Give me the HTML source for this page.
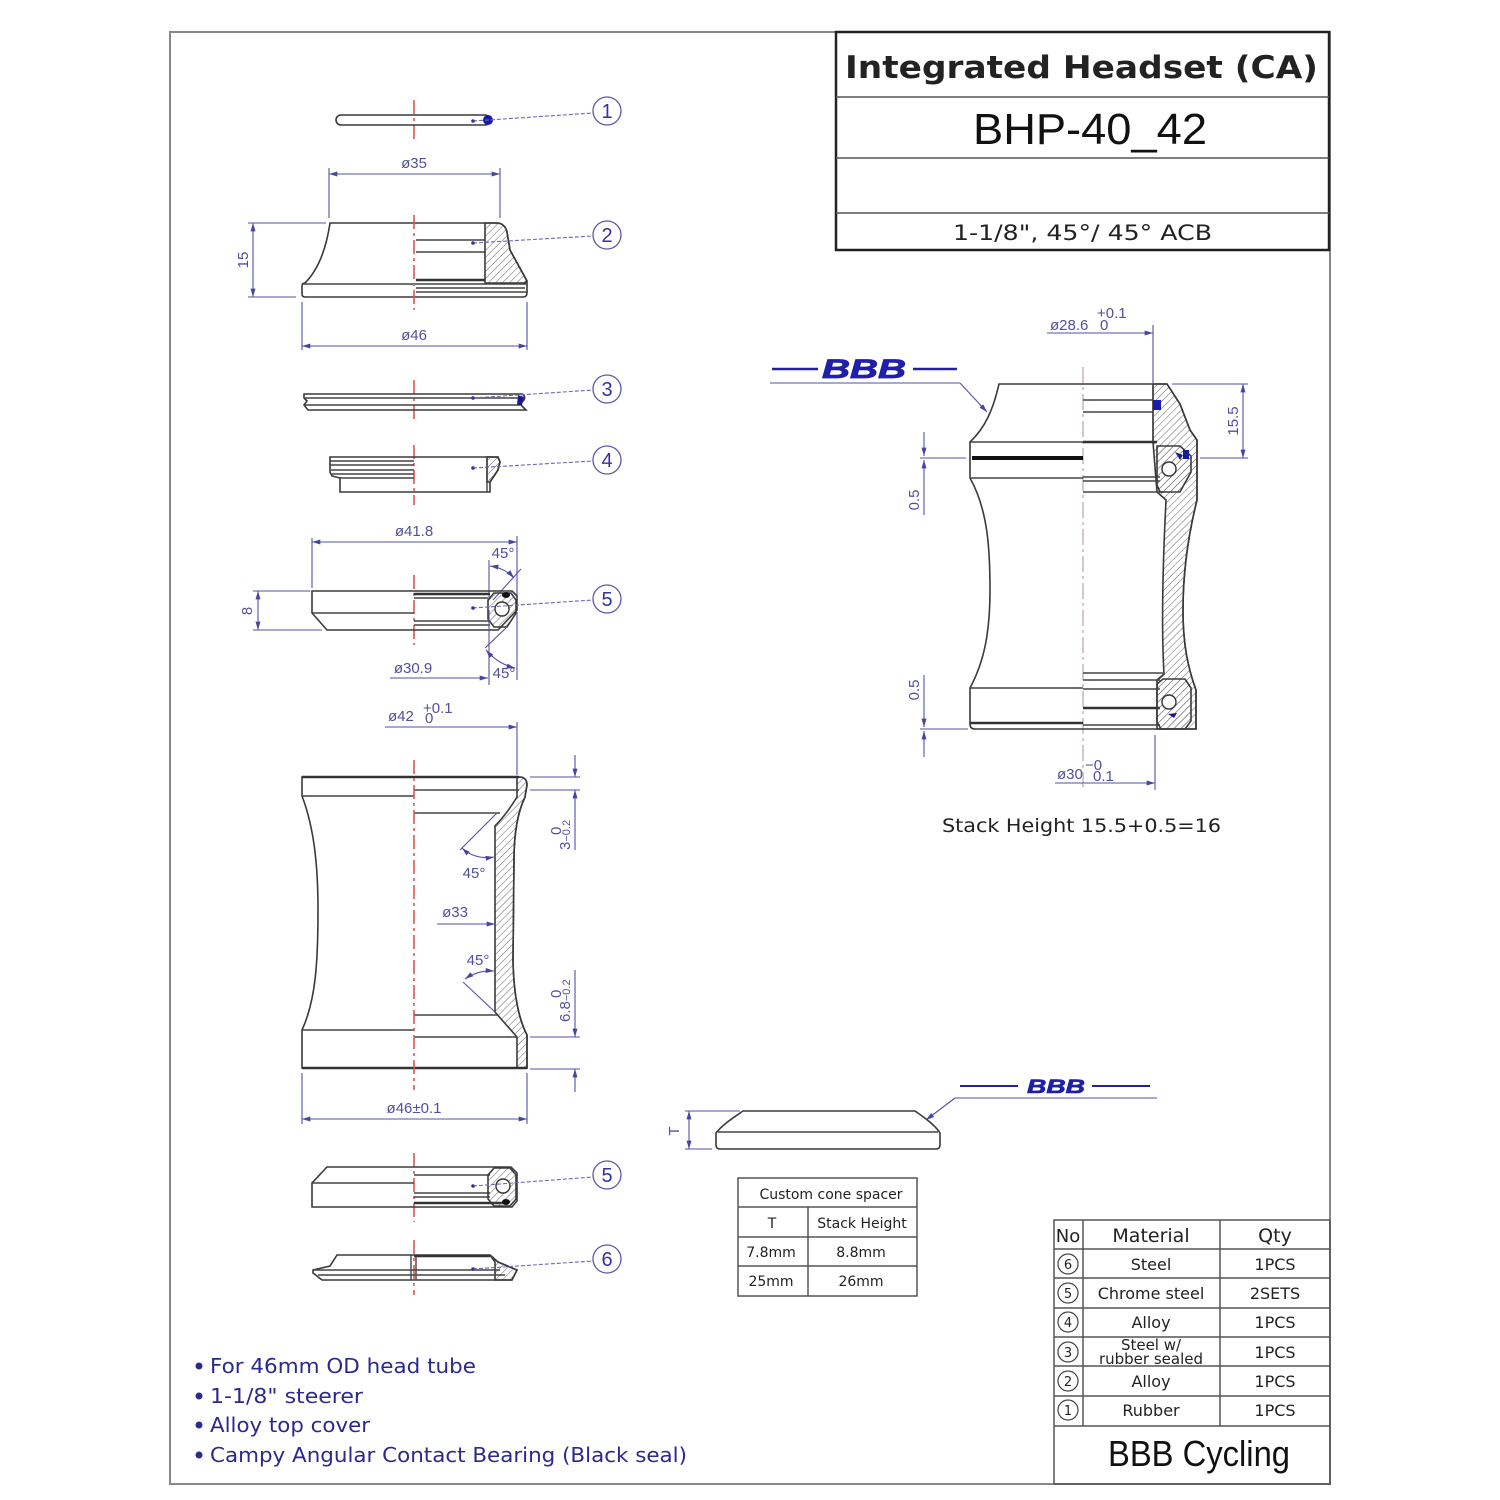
<!DOCTYPE html>
<html><head><meta charset="utf-8">
<style>html,body{margin:0;padding:0;background:#fff}svg{display:block}</style></head>
<body>
<svg width="1500" height="1500" viewBox="0 0 1500 1500" xmlns="http://www.w3.org/2000/svg">
<defs>
<pattern id="h" width="5" height="5" patternUnits="userSpaceOnUse" patternTransform="rotate(45)"><line x1="0" y1="0" x2="0" y2="5" stroke="#666" stroke-width="1"/></pattern>
<marker id="ar" viewBox="0 0 10 6" refX="10" refY="3" markerWidth="10" markerHeight="5" markerUnits="userSpaceOnUse" orient="auto-start-reverse"><path d="M0,0 L10,3 L0,6 z" fill="#4646a0"/></marker>
<style>
.o{fill:none;stroke:#3a3a3a;stroke-width:1.6}
.l{stroke:#444;stroke-width:1.4}
.tk{stroke:#333;stroke-width:2.6}
.d{stroke:#5252a8;stroke-width:1.1;fill:none}
.c{stroke:#e05555;stroke-width:1.6;stroke-dasharray:14 4 3 4}
.ld{stroke:#6a6ab8;stroke-width:1.1;stroke-dasharray:4 2;fill:none}
.t{fill:#5050a0;font-family:"Liberation Sans",sans-serif;font-size:15px}
.cn{fill:#fff;stroke:#5a5aa8;stroke-width:1.3}
.cnt{fill:#3333a0;font-family:"Liberation Sans",sans-serif;font-size:20px;text-anchor:middle}
.k{font-family:"DejaVu Sans","Liberation Sans",sans-serif;fill:#222}
.b{font-family:"DejaVu Sans","Liberation Sans",sans-serif;fill:#2a2a8c;font-size:20px}
</style>
</defs>

<!-- frame -->
<rect x="170" y="32" width="1160" height="1452" fill="none" stroke="#888" stroke-width="2"/>

<!-- title block -->
<rect x="836" y="32" width="493" height="218" fill="#fff" stroke="#222" stroke-width="2.5"/>
<line x1="836" y1="97" x2="1329" y2="97" stroke="#555" stroke-width="1.5"/>
<line x1="836" y1="158" x2="1329" y2="158" stroke="#555" stroke-width="1.5"/>
<line x1="836" y1="213" x2="1329" y2="213" stroke="#555" stroke-width="1.5"/>
<text x="845" y="78" class="k" font-weight="bold" font-size="31" textLength="473" lengthAdjust="spacingAndGlyphs" fill="#111">Integrated Headset (CA)</text>
<text x="973" y="144" font-family="Liberation Sans, sans-serif" font-size="44" textLength="234" lengthAdjust="spacingAndGlyphs" fill="#111">BHP-40_42</text>
<text x="953" y="240" class="k" font-size="21" textLength="259" lengthAdjust="spacingAndGlyphs">1-1/8", 45°/ 45° ACB</text>

<!-- ===== Part 1 ===== -->
<line class="c" x1="414" y1="100" x2="414" y2="142"/>
<rect x="336" y="115" width="154" height="10" rx="5" class="o"/>
<circle cx="488" cy="120" r="5" fill="#1a1aa8"/>

<!-- ===== Part 2 ===== -->
<line class="d" x1="329" y1="168" x2="329" y2="218"/>
<line class="d" x1="500" y1="168" x2="500" y2="218"/>
<line class="d" x1="329" y1="174" x2="500" y2="174" marker-start="url(#ar)" marker-end="url(#ar)"/>
<text class="t" x="414" y="168" text-anchor="middle">ø35</text>
<path class="o" d="M485,223 L498,223 Q505,224 507,232 L510,250 L527,281 L525,283 L485,283 Z" style="fill:url(#h)"/>
<path class="o" d="M330,223 L498,223 Q505,224 507,232 L510,250 L527,281 L527,293 Q527,297 523,297 L305,297 Q302,297 302,294 L302,286 Q302,283 305,283 C318,270 326,250 330,223 Z"/>
<line class="l" x1="416" y1="240" x2="485" y2="240"/>
<line class="l" x1="416" y1="252" x2="485" y2="252"/>
<line class="tk" x1="416" y1="280" x2="485" y2="280"/>
<line class="l" x1="303" y1="284" x2="527" y2="284"/>
<line class="l" x1="416" y1="288" x2="525" y2="288"/>
<line class="l" x1="416" y1="292" x2="527" y2="292"/>
<line class="c" x1="414" y1="215" x2="414" y2="310"/>
<line class="d" x1="248" y1="223" x2="326" y2="223"/>
<line class="d" x1="248" y1="297" x2="296" y2="297"/>
<line class="d" x1="253" y1="223" x2="253" y2="297" marker-start="url(#ar)" marker-end="url(#ar)"/>
<text class="t" transform="translate(248,260) rotate(-90)" text-anchor="middle">15</text>
<line class="d" x1="302" y1="302" x2="302" y2="350"/>
<line class="d" x1="527" y1="302" x2="527" y2="350"/>
<line class="d" x1="302" y1="346" x2="527" y2="346" marker-start="url(#ar)" marker-end="url(#ar)"/>
<text class="t" x="414" y="340" text-anchor="middle">ø46</text>

<!-- ===== Part 3 ===== -->
<line class="c" x1="414" y1="380" x2="414" y2="422"/>
<path class="o" d="M304,394 L522,394 Q526,396 524,400 L520,404 L526,410 L308,410 L304,405 L307,401 L304,398 Z"/>
<line class="l" x1="305" y1="398" x2="521" y2="398"/>
<line class="l" x1="305" y1="405" x2="520" y2="405"/>
<path d="M518,395 L524,397 L522,405 L517,405 Z" fill="#1a1a90"/>

<!-- ===== Part 4 ===== -->
<line class="c" x1="414" y1="445" x2="414" y2="505"/>
<path class="o" d="M487,457 L498,457 L500,462 L498,470 L490,482 L487,482 Z" style="fill:url(#h)"/>
<path class="o" d="M330,457 L498,457 L500,462 L498,470 L490,482 L490,492 L340,492 L340,478 L332,476 L330,472 Z"/>
<line class="l" x1="330" y1="461" x2="414" y2="461"/>
<line class="l" x1="330" y1="465" x2="414" y2="465"/>
<line class="l" x1="331" y1="470" x2="414" y2="470"/>
<line class="l" x1="332" y1="474" x2="414" y2="474"/>
<line class="l" x1="340" y1="478" x2="414" y2="478"/>
<line class="l" x1="487" y1="457" x2="487" y2="492"/>

<!-- ===== Part 5 upper ===== -->
<line class="d" x1="312" y1="538" x2="312" y2="588"/>
<line class="d" x1="517" y1="536" x2="517" y2="596"/>
<line class="d" x1="312" y1="542" x2="517" y2="542" marker-start="url(#ar)" marker-end="url(#ar)"/>
<text class="t" x="414" y="536" text-anchor="middle">ø41.8</text>
<text class="t" x="503" y="558" text-anchor="middle">45°</text>
<line class="d" x1="489" y1="560" x2="489" y2="600"/>
<line class="d" x1="521" y1="569" x2="493" y2="600"/>
<path class="d" d="M490,566 Q505,568 514,578" marker-start="url(#ar)" marker-end="url(#ar)"/>
<line class="c" x1="414" y1="575" x2="414" y2="645"/>
<path class="o" d="M312,591 L512,591 L517,596 L517,610 L498,630 L327,630 L312,613 Z"/>
<line class="tk" x1="414" y1="594" x2="490" y2="594"/>
<line class="l" x1="312" y1="613" x2="414" y2="613"/>
<line class="l" x1="414" y1="598" x2="488" y2="598"/>
<line class="l" x1="414" y1="621" x2="490" y2="621"/>
<line class="l" x1="414" y1="625" x2="490" y2="625"/>
<path class="o" d="M488,600 L494,593 L511,593 L516,600 L516,613 L507,627 L494,627 L488,619 Z" style="fill:url(#h)"/>
<circle cx="502" cy="609" r="7" fill="#fff" stroke="#333" stroke-width="1.4"/>
<ellipse cx="506" cy="595" rx="4" ry="3" fill="#111"/>
<line class="d" x1="253" y1="591" x2="310" y2="591"/>
<line class="d" x1="253" y1="630" x2="322" y2="630"/>
<line class="d" x1="258" y1="591" x2="258" y2="630" marker-start="url(#ar)" marker-end="url(#ar)"/>
<text class="t" transform="translate(252,611) rotate(-90)" text-anchor="middle">8</text>
<line class="d" x1="489" y1="610" x2="489" y2="685"/>
<line class="d" x1="517" y1="612" x2="517" y2="680"/>
<line class="d" x1="507" y1="627" x2="485" y2="648"/>
<path class="d" d="M486,650 Q498,664 515,668" marker-start="url(#ar)" marker-end="url(#ar)"/>
<text class="t" x="504" y="678" text-anchor="middle">45°</text>
<line class="d" x1="390" y1="678" x2="488" y2="678" marker-end="url(#ar)"/>
<text class="t" x="413" y="673" text-anchor="middle">ø30.9</text>

<!-- ===== Big cup ===== -->
<text class="t" x="388" y="721">ø42</text>
<text class="t" x="423" y="713" font-size="11">+0.1</text>
<text class="t" x="425" y="723" font-size="11">0</text>
<line class="d" x1="385" y1="727" x2="517" y2="727" marker-end="url(#ar)"/>
<line class="d" x1="517" y1="722" x2="517" y2="775"/>
<path class="o" d="M519,777 Q527,777 527,785 L525,797 Q514,820 514,860 L513,960 Q514,1010 527,1035 L527,1068 L517,1068 L517,1037 L495,1012 L495,826 Q506,815 517,797 L517,777 Z" style="fill:url(#h)"/>
<path class="o" d="M302,777 L519,777 Q527,777 527,785 L525,797 Q514,820 514,860 L513,960 Q514,1010 527,1035 L527,1068 L302,1068 L302,1030 C316,1000 318,960 318,910 C318,870 315,830 302,796 Z"/>
<line class="tk" x1="302" y1="777" x2="519" y2="777"/>
<line class="l" x1="302" y1="796" x2="414" y2="796"/>
<line class="l" x1="414" y1="790" x2="519" y2="790"/>
<line class="l" x1="414" y1="813" x2="500" y2="813"/>
<line class="l" x1="414" y1="1015" x2="497" y2="1015"/>
<line class="l" x1="302" y1="1030" x2="414" y2="1030"/>
<line class="l" x1="414" y1="1037" x2="517" y2="1037"/>
<line class="tk" x1="302" y1="1068" x2="527" y2="1068"/>
<line class="c" x1="414" y1="760" x2="414" y2="1090"/>
<line class="d" x1="530" y1="777" x2="580" y2="777"/>
<line class="d" x1="530" y1="790" x2="580" y2="790"/>
<line class="d" x1="575" y1="755" x2="575" y2="777" marker-end="url(#ar)"/>
<line class="d" x1="575" y1="850" x2="575" y2="790" marker-end="url(#ar)"/>
<text class="t" transform="translate(570,850) rotate(-90)">3<tspan font-size="11">−0.2</tspan></text>
<text class="t" transform="translate(561,835) rotate(-90)" font-size="11">0</text>
<line class="d" x1="497" y1="813" x2="460" y2="850"/>
<path class="d" d="M462,848 Q475,860 494,857" marker-start="url(#ar)" marker-end="url(#ar)"/>
<text class="t" x="474" y="878" text-anchor="middle">45°</text>
<text class="t" x="455" y="917" text-anchor="middle">ø33</text>
<line class="d" x1="437" y1="924" x2="495" y2="924" marker-end="url(#ar)"/>
<text class="t" x="478" y="965" text-anchor="middle">45°</text>
<line class="d" x1="463" y1="982" x2="495" y2="1012"/>
<path class="d" d="M465,979 Q478,970 494,971" marker-start="url(#ar)" marker-end="url(#ar)"/>
<line class="d" x1="530" y1="1037" x2="580" y2="1037"/>
<line class="d" x1="530" y1="1069" x2="580" y2="1069"/>
<line class="d" x1="575" y1="970" x2="575" y2="1037" marker-end="url(#ar)"/>
<line class="d" x1="575" y1="1092" x2="575" y2="1069" marker-end="url(#ar)"/>
<text class="t" transform="translate(570,1022) rotate(-90)">6.8<tspan font-size="11">−0.2</tspan></text>
<text class="t" transform="translate(561,998) rotate(-90)" font-size="11">0</text>
<line class="d" x1="302" y1="1073" x2="302" y2="1124"/>
<line class="d" x1="527" y1="1073" x2="527" y2="1124"/>
<line class="d" x1="302" y1="1119" x2="527" y2="1119" marker-start="url(#ar)" marker-end="url(#ar)"/>
<text class="t" x="414" y="1113" text-anchor="middle">ø46±0.1</text>

<!-- ===== Part 5 lower ===== -->
<line class="c" x1="414" y1="1153" x2="414" y2="1222"/>
<path class="o" d="M327,1167 L511,1167 L517,1173 L517,1201 L512,1207 L312,1207 L312,1183 Z"/>
<line class="l" x1="312" y1="1183" x2="414" y2="1183"/>
<line class="l" x1="414" y1="1175" x2="490" y2="1175"/>
<line class="l" x1="414" y1="1193" x2="490" y2="1193"/>
<line class="l" x1="414" y1="1197" x2="490" y2="1197"/>
<line class="tk" x1="414" y1="1203" x2="508" y2="1203"/>
<path class="o" d="M488,1175 L494,1168 L510,1168 L516,1175 L516,1199 L510,1206 L494,1206 L488,1199 Z" style="fill:url(#h)"/>
<circle cx="503" cy="1186" r="7" fill="#fff" stroke="#333" stroke-width="1.4"/>
<ellipse cx="506" cy="1202" rx="4" ry="3" fill="#111"/>

<!-- ===== Part 6 ===== -->
<line class="c" x1="414" y1="1240" x2="414" y2="1295"/>
<path class="o" d="M490,1255 L498,1262 L517,1270 L512,1280 L495,1280 L495,1262 Z" style="fill:url(#h)"/>
<path class="o" d="M337,1255 L490,1255 L498,1262 L517,1270 L512,1280 L322,1280 L313,1273 L313,1270 L330,1266 Z"/>
<line class="tk" x1="414" y1="1256" x2="490" y2="1256"/>
<line class="l" x1="313" y1="1270" x2="500" y2="1270"/>
<line class="l" x1="318" y1="1275" x2="505" y2="1275"/>
<line class="l" x1="411" y1="1255" x2="411" y2="1280"/>
<line class="l" x1="416" y1="1255" x2="416" y2="1280"/>

<!-- leaders & balloons -->
<g>
<line class="ld" x1="473" y1="121" x2="593" y2="113"/><circle cx="473" cy="121" r="1.8" fill="#3333a0"/>
<line class="ld" x1="473" y1="243" x2="593" y2="236"/><circle cx="473" cy="243" r="1.8" fill="#3333a0"/>
<line class="ld" x1="473" y1="398" x2="593" y2="390"/><circle cx="473" cy="398" r="1.8" fill="#3333a0"/>
<line class="ld" x1="473" y1="468" x2="593" y2="461"/><circle cx="473" cy="468" r="1.8" fill="#3333a0"/>
<line class="ld" x1="473" y1="608" x2="593" y2="600"/><circle cx="473" cy="608" r="1.8" fill="#3333a0"/>
<line class="ld" x1="473" y1="1186" x2="593" y2="1177"/><circle cx="473" cy="1186" r="1.8" fill="#3333a0"/>
<line class="ld" x1="473" y1="1269" x2="593" y2="1261"/><circle cx="473" cy="1269" r="1.8" fill="#3333a0"/>
<circle class="cn" cx="607" cy="111" r="14"/><text class="cnt" x="607" y="118">1</text>
<circle class="cn" cx="607" cy="235" r="14"/><text class="cnt" x="607" y="242">2</text>
<circle class="cn" cx="607" cy="389" r="14"/><text class="cnt" x="607" y="396">3</text>
<circle class="cn" cx="607" cy="460" r="14"/><text class="cnt" x="607" y="467">4</text>
<circle class="cn" cx="607" cy="599" r="14"/><text class="cnt" x="607" y="606">5</text>
<circle class="cn" cx="607" cy="1175" r="14"/><text class="cnt" x="607" y="1182">5</text>
<circle class="cn" cx="607" cy="1259" r="14"/><text class="cnt" x="607" y="1266">6</text>
</g>

<!-- ===== Right assembly ===== -->
<line x1="772" y1="369" x2="818" y2="369" stroke="#2222a0" stroke-width="2.5"/>
<line x1="913" y1="369" x2="957" y2="369" stroke="#2222a0" stroke-width="2.5"/>
<text x="822" y="378" font-family="Liberation Sans, sans-serif" font-style="italic" font-weight="bold" font-size="27" fill="#2020b0" stroke="#1a1a9a" stroke-width="0.8" textLength="84" lengthAdjust="spacingAndGlyphs">BBB</text>
<line class="d" x1="770" y1="383" x2="960" y2="383"/>
<line class="d" x1="960" y1="383" x2="987" y2="412" marker-end="url(#ar)"/>

<line x1="1083" y1="367" x2="1083" y2="787" stroke="#c0a0a0" stroke-width="1.2" stroke-dasharray="16 4 3 4"/>

<path class="o" d="M1153,384 L1167,384 L1180,404 L1190,430 L1197,440 L1197,500 C1187,540 1183,575 1183,610 C1183,645 1188,668 1196,690 L1196,729 L1157,729 L1157,680 L1164,674 C1162,640 1162,580 1166,500 L1157,492 L1153,442 Z" style="fill:url(#h)"/>
<path class="o" d="M999,384 L1167,384 L1180,404 L1190,430 L1197,440 L1197,500 C1187,540 1183,575 1183,610 C1183,645 1188,668 1196,690 L1196,729 L975,729 Q970,729 970,724 L970,688 C985,660 990,630 990,590 C990,550 988,510 970,478 L970,442 C985,428 993,410 999,384 Z"/>
<line class="l" x1="1153" y1="384" x2="1153" y2="442"/>
<line class="l" x1="970" y1="442" x2="1083" y2="442"/>
<line x1="972" y1="458" x2="1083" y2="458" stroke="#111" stroke-width="4"/>
<line class="l" x1="970" y1="478" x2="1083" y2="478"/>
<line class="l" x1="1083" y1="400" x2="1153" y2="400"/>
<line class="l" x1="1083" y1="412" x2="1153" y2="412"/>
<line class="tk" x1="1083" y1="442" x2="1157" y2="442"/>
<line class="l" x1="1083" y1="477" x2="1160" y2="477"/>
<line class="l" x1="1083" y1="481" x2="1160" y2="481"/>
<line class="l" x1="1083" y1="492" x2="1164" y2="492"/>
<line class="l" x1="970" y1="688" x2="1083" y2="688"/>
<line class="tk" x1="970" y1="723" x2="1083" y2="723"/>
<line class="l" x1="1083" y1="673" x2="1163" y2="673"/>
<line class="l" x1="1083" y1="680" x2="1160" y2="680"/>
<line class="l" x1="1083" y1="689" x2="1160" y2="689"/>
<line class="tk" x1="1083" y1="708" x2="1160" y2="708"/>
<line class="l" x1="1083" y1="725" x2="1160" y2="725"/>
<path class="o" d="M1157,446 L1180,446 L1191,456 L1191,472 L1180,492 L1160,492 L1157,485 Z" style="fill:url(#h)"/>
<circle cx="1169" cy="469" r="7" fill="#fff" stroke="#333" stroke-width="1.4"/>
<path d="M1175,452 L1183,455 L1180,460 Z" fill="#1a1a90"/>
<rect x="1183" y="450" width="6" height="9" fill="#1a1a90"/>
<path class="o" d="M1157,684 L1163,679 L1185,679 L1191,688 L1191,721 L1185,729 L1161,729 L1157,722 Z" style="fill:url(#h)"/>
<circle cx="1169" cy="702" r="7" fill="#fff" stroke="#333" stroke-width="1.4"/>
<path d="M1168,714 L1177,713 L1174,718 Z" fill="#1a1a90"/>
<rect x="1153" y="400" width="8" height="10" fill="#1a1ab0"/>

<text class="t" x="1050" y="330">ø28.6</text>
<text class="t" x="1097" y="318" font-size="11">+0.1</text>
<text class="t" x="1100" y="330" font-size="11">0</text>
<line class="d" x1="1047" y1="333" x2="1153" y2="333" marker-end="url(#ar)"/>
<line class="d" x1="1153" y1="325" x2="1153" y2="384"/>
<line class="d" x1="1172" y1="384" x2="1248" y2="384"/>
<line class="d" x1="1200" y1="458" x2="1248" y2="458"/>
<line class="d" x1="1243" y1="384" x2="1243" y2="458" marker-start="url(#ar)" marker-end="url(#ar)"/>
<text class="t" transform="translate(1238,421) rotate(-90)" text-anchor="middle">15.5</text>
<line class="d" x1="920" y1="458" x2="966" y2="458"/>
<line class="d" x1="924" y1="432" x2="924" y2="456" marker-end="url(#ar)"/>
<line class="d" x1="924" y1="515" x2="924" y2="460" marker-end="url(#ar)"/>
<text class="t" transform="translate(919,500) rotate(-90)" text-anchor="middle">0.5</text>
<line class="d" x1="920" y1="729" x2="968" y2="729"/>
<line class="d" x1="924" y1="675" x2="924" y2="727" marker-end="url(#ar)"/>
<line class="d" x1="924" y1="757" x2="924" y2="731" marker-end="url(#ar)"/>
<text class="t" transform="translate(919,690) rotate(-90)" text-anchor="middle">0.5</text>
<line class="d" x1="1155" y1="735" x2="1155" y2="790"/>
<line class="d" x1="1055" y1="783" x2="1155" y2="783" marker-end="url(#ar)"/>
<text class="t" x="1057" y="779">ø30</text>
<text class="t" x="1085" y="770" font-size="11">−0</text>
<text class="t" x="1093" y="781" font-size="11">0.1</text>

<text x="942" y="832" class="k" font-size="19" textLength="279" lengthAdjust="spacingAndGlyphs">Stack Height  15.5+0.5=16</text>

<!-- ===== cone spacer ===== -->
<line x1="960" y1="1086" x2="1018" y2="1086" stroke="#2222a0" stroke-width="2"/>
<line x1="1092" y1="1086" x2="1150" y2="1086" stroke="#2222a0" stroke-width="2"/>
<text x="1027" y="1093" font-family="Liberation Sans, sans-serif" font-style="italic" font-weight="bold" font-size="19" fill="#2020b0" stroke="#1a1a9a" stroke-width="0.6" textLength="58" lengthAdjust="spacingAndGlyphs">BBB</text>
<line class="d" x1="955" y1="1098" x2="1157" y2="1098"/>
<line class="d" x1="955" y1="1098" x2="926" y2="1120" marker-end="url(#ar)"/>
<path class="o" d="M743,1111 L915,1111 C925,1118 935,1125 940,1133 L940,1145 Q940,1149 936,1149 L720,1149 Q716,1149 716,1145 L716,1133 C722,1125 733,1118 743,1111 Z"/>
<line class="l" x1="718" y1="1132" x2="938" y2="1132"/>
<line class="d" x1="685" y1="1111" x2="740" y2="1111"/>
<line class="d" x1="685" y1="1149" x2="712" y2="1149"/>
<line class="d" x1="689" y1="1111" x2="689" y2="1149" marker-start="url(#ar)" marker-end="url(#ar)"/>
<text class="t" transform="translate(679,1131) rotate(-90)" text-anchor="middle" font-size="11">T</text>

<!-- custom cone spacer table -->
<g stroke="#555" stroke-width="1.5" fill="none">
<rect x="738" y="1178" width="179" height="118"/>
<line x1="738" y1="1207" x2="917" y2="1207"/>
<line x1="738" y1="1237" x2="917" y2="1237"/>
<line x1="738" y1="1266" x2="917" y2="1266"/>
<line x1="808" y1="1207" x2="808" y2="1296"/>
</g>
<g class="k" font-size="14" text-anchor="middle" fill="#333">
<text x="831" y="1199">Custom cone spacer</text>
<text x="772" y="1228">T</text>
<text x="862" y="1228">Stack Height</text>
<text x="771" y="1257">7.8mm</text>
<text x="861" y="1257">8.8mm</text>
<text x="771" y="1286">25mm</text>
<text x="861" y="1286">26mm</text>
</g>

<!-- parts table -->
<g stroke="#555" stroke-width="1.5" fill="none">
<rect x="1054" y="1220" width="276" height="264"/>
<line x1="1054" y1="1249" x2="1330" y2="1249"/>
<line x1="1054" y1="1278" x2="1330" y2="1278"/>
<line x1="1054" y1="1308" x2="1330" y2="1308"/>
<line x1="1054" y1="1337" x2="1330" y2="1337"/>
<line x1="1054" y1="1366" x2="1330" y2="1366"/>
<line x1="1054" y1="1396" x2="1330" y2="1396"/>
<line x1="1054" y1="1426" x2="1330" y2="1426"/>
<line x1="1083" y1="1220" x2="1083" y2="1426"/>
<line x1="1220" y1="1220" x2="1220" y2="1426"/>
</g>
<g class="k" text-anchor="middle" fill="#222">
<text x="1068" y="1242" font-size="18">No</text>
<text x="1151" y="1242" font-size="19">Material</text>
<text x="1275" y="1242" font-size="19">Qty</text>
<text x="1151" y="1270" font-size="16">Steel</text>
<text x="1151" y="1299" font-size="16">Chrome steel</text>
<text x="1151" y="1328" font-size="16">Alloy</text>
<text x="1151" y="1350" font-size="15">Steel  w/</text>
<text x="1151" y="1364" font-size="15">rubber sealed</text>
<text x="1151" y="1387" font-size="16">Alloy</text>
<text x="1151" y="1416" font-size="16">Rubber</text>
<text x="1275" y="1270" font-size="16">1PCS</text>
<text x="1275" y="1299" font-size="16">2SETS</text>
<text x="1275" y="1328" font-size="16">1PCS</text>
<text x="1275" y="1358" font-size="16">1PCS</text>
<text x="1275" y="1387" font-size="16">1PCS</text>
<text x="1275" y="1416" font-size="16">1PCS</text>
</g>
<g fill="none" stroke="#444" stroke-width="1.2">
<circle cx="1068" cy="1264" r="10"/><circle cx="1068" cy="1293" r="10"/><circle cx="1068" cy="1322" r="10"/>
<circle cx="1068" cy="1352" r="10"/><circle cx="1068" cy="1381" r="10"/><circle cx="1068" cy="1410" r="10"/>
</g>
<g class="k" font-size="13" text-anchor="middle" fill="#222">
<text x="1068" y="1269">6</text><text x="1068" y="1298">5</text><text x="1068" y="1327">4</text>
<text x="1068" y="1357">3</text><text x="1068" y="1386">2</text><text x="1068" y="1415">1</text>
</g>
<text x="1108" y="1466" font-family="Liberation Sans, sans-serif" font-size="36" fill="#111" textLength="182" lengthAdjust="spacingAndGlyphs">BBB Cycling</text>

<!-- bullets -->
<g fill="#2a2a8c">
<circle cx="199" cy="1366" r="3.5"/><circle cx="199" cy="1396" r="3.5"/>
<circle cx="199" cy="1425" r="3.5"/><circle cx="199" cy="1455" r="3.5"/>
</g>
<text class="b" x="210" y="1373" textLength="266" lengthAdjust="spacingAndGlyphs">For 46mm OD head tube</text>
<text class="b" x="210" y="1403" textLength="153" lengthAdjust="spacingAndGlyphs">1-1/8" steerer</text>
<text class="b" x="210" y="1432" textLength="160" lengthAdjust="spacingAndGlyphs">Alloy top cover</text>
<text class="b" x="210" y="1462" textLength="477" lengthAdjust="spacingAndGlyphs">Campy Angular Contact Bearing (Black seal)</text>
</svg>
</body></html>
